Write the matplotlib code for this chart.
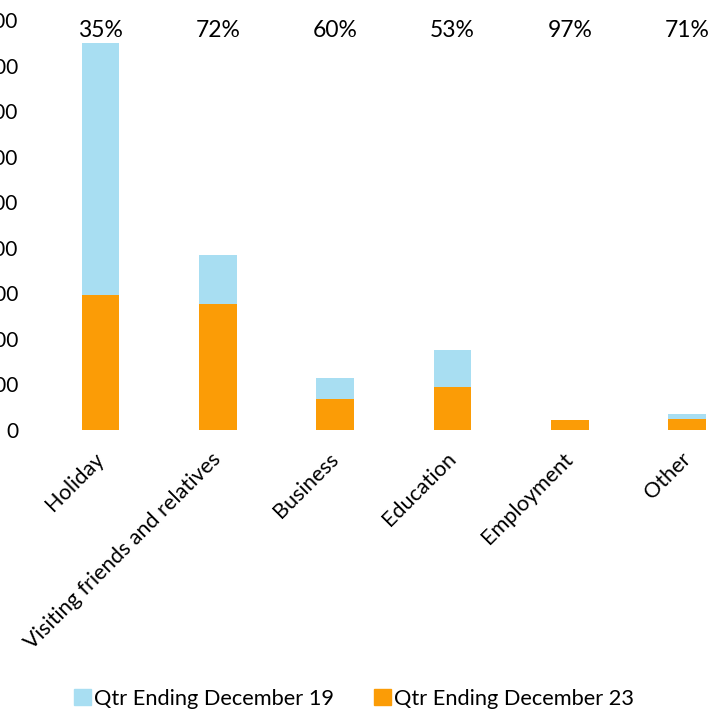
import matplotlib
matplotlib.use("Agg")
import matplotlib.pyplot as plt
import matplotlib.transforms as mtransforms
from matplotlib.patches import Patch

plt.rcParams['font.family'] = ['Lato', 'DejaVu Sans']

categories = ["Holiday", "Visiting friends and relatives", "Business",
              "Education", "Employment", "Other"]
qtr_dec19 = [850, 385, 114, 176, 22, 35]
qtr_dec23 = [297, 277, 68, 94, 21.5, 25]
pct_labels = ["35%", "72%", "60%", "53%", "97%", "71%"]
y_ticks = [0, 100, 200, 300, 400, 500, 600, 700, 800, 900]
y_tick_labels = ["0", "100", "200", "300", "400", "500", "600", "700", "800", "900"]

W, H = 708, 712
fig = plt.figure(figsize=(W / 100, H / 100), dpi=100)
left_px, top_px, bottom_px = 42, 20, 430
step_px = 117.3
ax = fig.add_axes([left_px / W, (H - bottom_px) / H,
                   6 * step_px / W, (bottom_px - top_px) / H])

c19 = '#A8DEF2'
c23 = '#FB9C06'
x = list(range(len(categories)))
width = 0.32
ax.bar(x, qtr_dec19, width=width, color=c19, zorder=2)
ax.bar(x, qtr_dec23, width=width, color=c23, zorder=3)

ax.set_xlim(-0.5, len(categories) - 0.5)
ax.set_ylim(0, 900)
ax.set_yticks(y_ticks)
ax.set_yticklabels(y_tick_labels, fontsize=15)
ax.tick_params(axis='y', length=0, pad=17)
ax.tick_params(axis='x', length=0)
ax.set_xticks(x)
ax.set_xticklabels(categories, rotation=45, ha='right', va='top',
                   rotation_mode='anchor', fontsize=15.6)
offset = mtransforms.ScaledTranslation(-7 / 100, -14 / 100, fig.dpi_scale_trans)
for lab in ax.get_xticklabels():
    lab.set_transform(lab.get_transform() + offset)

for s in ax.spines.values():
    s.set_visible(False)

trans = mtransforms.blended_transform_factory(ax.transData, ax.transAxes)
for xi, lab in zip(x, pct_labels):
    ax.text(xi, 0.974, lab, transform=trans, ha='center', va='center', fontsize=16.5)

handles = [Patch(color=c19, label="Qtr Ending December 19"),
           Patch(color=c23, label="Qtr Ending December 23")]
fig.legend(handles=handles, loc='center', bbox_to_anchor=(354 / W, 1 - 699 / H),
           ncol=2, frameon=False, fontsize=15.7, handlelength=0.75, handleheight=0.75,
           handletextpad=0.15, columnspacing=1.85)

fig.savefig("out.png", dpi=100)
